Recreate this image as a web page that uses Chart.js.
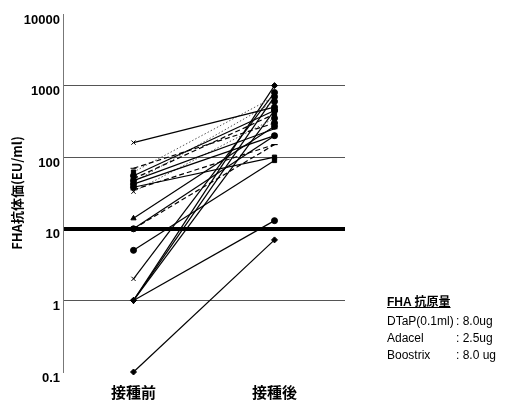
<!DOCTYPE html>
<html><head><meta charset="utf-8">
<script src="https://cdn.jsdelivr.net/npm/chart.js@4/dist/chart.umd.min.js"></script>
<style>
html,body{margin:0;padding:0;background:#fff;}
#wrap{position:relative;width:505px;height:402px;overflow:hidden;}
canvas{position:absolute;left:0;top:0;}
.leg{position:absolute;font-family:"Liberation Sans",Arial,"Noto Sans CJK JP",sans-serif;font-size:12px;color:#000;white-space:pre;line-height:14px;}
</style></head><body>
<div id="wrap"><canvas id="c" width="505" height="402"></canvas>
<div class="leg" style="left:387px;top:295px;font-weight:bold;text-decoration:underline;">FHA 抗原量</div>
<div class="leg" style="left:387px;top:314px;">DTaP(0.1ml)</div><div class="leg" style="left:456px;top:314px;">: 8.0ug</div>
<div class="leg" style="left:387px;top:331px;">Adacel</div><div class="leg" style="left:456px;top:331px;">: 2.5ug</div>
<div class="leg" style="left:387px;top:348px;">Boostrix</div><div class="leg" style="left:456px;top:348px;">: 8.0 ug</div>
</div>
<script>
// ---- data ----
const categories = ['接種前', '接種後'];
const preValues  = [160, 70, 62, 55, 50, 47, 45, 42, 38, 35, 33, 14, 10, 10, 5, 2, 1, 1, 1, 1, 0.1];
const postValues = [500, 300, 700, 450, 400, 250, 600, 200, 100, 150, 350, 270, 150, 200, 90, 800, 1000, 700, 450, 13, 7];
const yTickValues = [0.1, 1, 10, 100, 1000, 10000];
const yTickLabels = ['0.1', '1', '10', '100', '1000', '10000'];
const yTitle = 'FHA抗体価(EU/ml)';

// ---- styles (separate from data) ----
const lineKinds = ['solid','dash','dot','solid','dash','solid','dot','solid','solid','dash','dot','solid','dash','solid','solid','solid','solid','solid','solid','solid','solid'];
const preMarks  = ['crossRot','line','rect','circle','line','circle','rect','circle','circle','line','crossRot','triangle','rect','circle','circle','crossRot','rectRot','rectRot','rectRot','rectRot','rectRot'];
const postMarks = ['circle','circle','rect','circle','rect','line','circle','rect','rect','line','circle','circle','line','circle','rect','circle','rectRot','circle','circle','circle','rectRot'];

const datasets = preValues.map((p, i) => {
  const k = lineKinds[i];
  return {
    data: [p, postValues[i]],
    borderColor: k === 'dot' ? '#555' : '#000',
    backgroundColor: '#000',
    borderWidth: k === 'dot' ? 1 : 1.2,
    borderDash: k === 'dash' ? [5, 3] : (k === 'dot' ? [1.5, 2] : []),
    pointStyle: [preMarks[i], postMarks[i]],
    pointRadius: 3,
    pointBorderColor: '#000',
    pointBackgroundColor: '#000',
    pointBorderWidth: 1,
    tension: 0,
    fill: false,
    clip: false
  };
});

new Chart(document.getElementById('c'), {
  type: 'line',
  data: { labels: categories, datasets },
  options: {
    responsive: false,
    animation: false,
    devicePixelRatio: 1,
    layout: { padding: { top: 14, right: 160, left: 0, bottom: 0 } },
    plugins: { legend: { display: false }, tooltip: { enabled: false } },
    scales: {
      x: {
        type: 'category',
        offset: true,
        grid: { display: false, drawTicks: false },
        border: { display: false },
        ticks: { color: '#000', padding: 11, font: { family: '"Noto Sans CJK JP", sans-serif', size: 15, weight: 'bold' } },
        afterFit: (s) => { s.height = 30; }
      },
      y: {
        type: 'logarithmic',
        min: 0.1,
        max: 10000,
        afterBuildTicks: (s) => { s.ticks = yTickValues.map(v => ({ value: v })); },
        afterFit: (s) => { s.width = 63; },
        ticks: {
          color: '#000',
          padding: 3,
          labelOffset: 6,
          font: { family: '"Liberation Sans", Arial, sans-serif', size: 13, weight: 'bold' },
          callback: (v) => { const i = yTickValues.indexOf(v); return i >= 0 ? yTickLabels[i] : ''; }
        },
        grid: {
          drawTicks: false,
          color: (ctx) => {
            const v = ctx.tick && ctx.tick.value;
            if (v === 10) return '#000';
            if (v === 1 || v === 100 || v === 1000) return '#555';
            return 'rgba(0,0,0,0)';
          },
          lineWidth: (ctx) => (ctx.tick && ctx.tick.value === 10) ? 4 : 1
        },
        border: { display: true, color: '#777', width: 1 },
        title: {
          display: true,
          text: yTitle,
          color: '#000',
          padding: { top: 9, bottom: 0 },
          font: { family: '"Noto Sans CJK JP", "Liberation Sans", sans-serif', size: 13, weight: 'bold' }
        }
      }
    }
  }
});
</script>
</body></html>
